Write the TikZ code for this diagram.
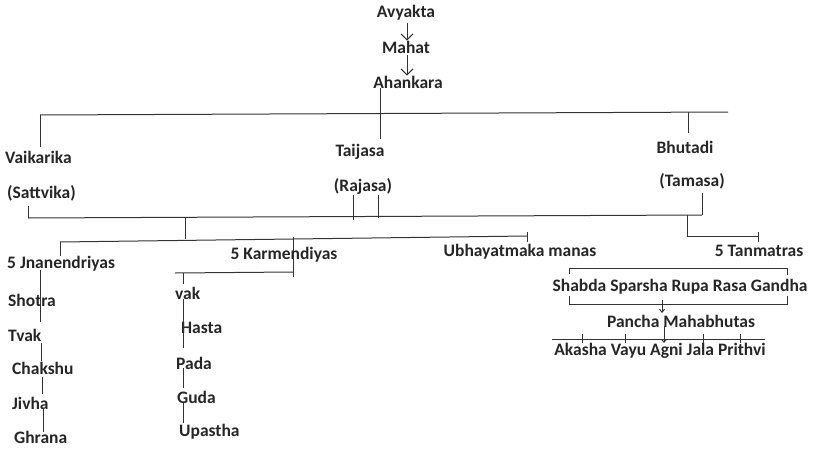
\documentclass[tikz,border=0pt]{standalone}
\usepackage{fontspec}
\setmainfont{Carlito}
\usetikzlibrary{arrows.meta}
\begin{document}
\begin{tikzpicture}[x=1pt,y=-1pt,
  lbl/.style={inner sep=0pt,font=\fontsize{17.5}{20}\selectfont\bfseries,text=black!85},
  ln/.style={draw=black!80,line width=1pt},
  arr/.style={ln,-{Straight Barb[length=6pt,width=12pt]}},
  sarr/.style={ln,-{Straight Barb[length=3pt,width=5pt]}}]
\useasboundingbox (0,0) rectangle (813,452);
% top chain
\node[lbl] (avy) at (406,13) {Avyakta};
\node[lbl] (mah) at (406,47) {Mahat};
\node[lbl] (ahk) at (408,82) {Ahankara};
\coordinate (a1) at (407,23);
\coordinate (a2) at (407,55);
\draw[arr] (a1) -- (a1 |- mah.north);
\draw[arr] (a2) -- (a2 |- ahk.north);
% level 1
\coordinate (ahkd) at (380,88);
\coordinate (h1l) at (40,115);
\coordinate (h1r) at (728,112);
\draw[ln] (h1l) -- (h1r);
\node[lbl,anchor=west] (vai) at (5,157) {Vaikarika};
\node[lbl] (tai) at (360,152) {Taijasa};
\node[lbl] (bhu) at (685,147) {Bhutadi};
\draw[ln] (ahkd) -- (380,139) coordinate (taiu);
\draw[ln] (h1l) -- (40,147) coordinate (vaiu);
\draw[ln] (688,112) coordinate (bhut) -- (688,133) coordinate (bhuu);
\node[lbl,anchor=west] (sat) at (7,193) {(Sattvika)};
\node[lbl] (raj) at (363,186) {(Rajasa)};
\node[lbl] (tam) at (692,181) {(Tamasa)};
% level 2
\coordinate (h2l) at (28,218);
\coordinate (h2r) at (702,215);
\draw[ln] (h2l) -- (h2r);
\draw[ln] (28,206) -- (h2l);
\draw[ln] (353,195) -- (353,220);
\draw[ln] (378,195) -- (378,218);
\draw[ln] (702,193) -- (h2r);
\draw[ln] (687,215) -- (687,236) coordinate (tanc) -- (758,236);
\draw[ln] (758,232) -- (758,242);
\node[lbl] (tan) at (759,251) {5 Tanmatras};
% level 3
\draw[ln] (185,217) -- (185,239);
\coordinate (h3l) at (60,242);
\coordinate (h3r) at (527,236);
\draw[ln] (h3l) -- (h3r);
\draw[ln] (h3l) -- (60,256);
\draw[ln] (527,232) -- (527,242);
\node[lbl,anchor=west] (jna) at (7,264) {5 Jnanendriyas};
\node[lbl] (kar) at (284,255) {5 Karmendiyas};
\node[lbl] (ubh) at (520,252) {Ubhayatmaka manas};
\draw[ln] (293,237) -- (293,277);
\draw[ln] (175,273) -- (293,272);
% jnanendriyas
\node[lbl,anchor=west] (sho) at (8,300) {Shotra};
\node[lbl,anchor=west] (tva) at (8,335) {Tvak};
\node[lbl,anchor=west] (cha) at (12,368) {Chakshu};
\node[lbl,anchor=west] (jiv) at (12,403) {Jivha};
\node[lbl,anchor=west] (ghr) at (14,437) {Ghrana};
\draw[ln] (40,270) -- (40,322);
\draw[ln] (41,343) -- (41,361);
\draw[ln] (42,377) -- (42,394);
\draw[ln] (43,409) -- (43,432);
% karmendiyas
\node[lbl,anchor=west] (vak) at (175,293) {vak};
\node[lbl,anchor=west] (has) at (181,328) {Hasta};
\node[lbl,anchor=west] (pad) at (176,363) {Pada};
\node[lbl,anchor=west] (gud) at (177,397) {Guda};
\node[lbl,anchor=west] (ups) at (179,432) {Upastha};
\draw[ln] (183,273) -- (183,284);
\draw[ln] (183,299) -- (183,348);
\draw[ln] (183,368) -- (183,388);
\draw[ln] (183,402) -- (183,423);
% right side
\node[lbl] (sha) at (680,287) {Shabda Sparsha Rupa Rasa Gandha};
\draw[ln] (569,274) -- (569,268) -- (787,268) -- (787,275);
\draw[ln] (569,296) -- (569,304) -- (787,304) -- (787,296);
\node[lbl] (pan) at (681,321) {Pancha Mahabhutas};
\draw[sarr] (662,300) -- (662,313);
\draw[sarr] (664,326) -- (664,343);
\draw[ln] (552,339) -- (765,339);
\foreach \xx in {582,625,703,740} \draw[ln] (\xx,334) -- (\xx,343);
\node[lbl] (aka) at (660,351) {Akasha Vayu Agni Jala Prithvi};
\end{tikzpicture}
\end{document}
